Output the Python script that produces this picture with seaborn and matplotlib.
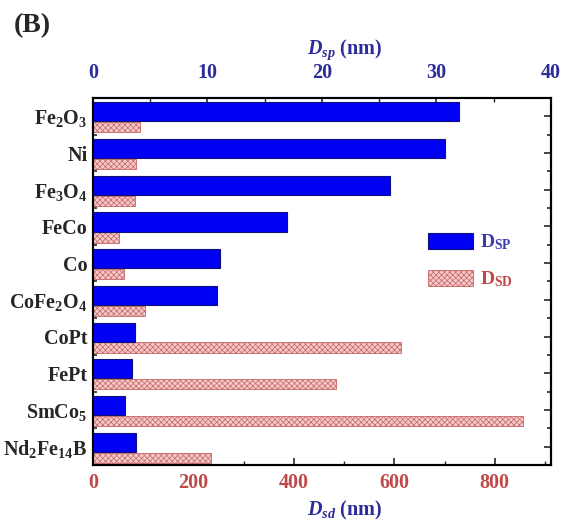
import numpy as np
import pandas as pd
import matplotlib
matplotlib.use("Agg")
import matplotlib.pyplot as plt
from matplotlib.patches import Patch
from matplotlib.ticker import MultipleLocator, FixedLocator
import seaborn as sns

materials = ["Fe$_2$O$_3$", "Ni", "Fe$_3$O$_4$", "FeCo", "Co", "CoFe$_2$O$_4$",
             "CoPt", "FePt", "SmCo$_5$", "Nd$_2$Fe$_{14}$B"]
d_sp = [32.0, 30.7, 25.9, 16.9, 11.1, 10.8, 3.7, 3.4, 2.8, 3.75]   # nm, top axis
d_sd = [94, 86, 84, 52, 62, 103, 613, 484, 856, 235]               # nm, bottom axis

BLUE = "#0000f5"
NAVY = "#2b2b9a"
PINK = "#f3c9c9"
RED = "#c04848"
HATCH_RED = "#c86464"

sns.set_style("ticks")
plt.rcParams["font.family"] = ["Liberation Serif", "DejaVu Serif"]
plt.rcParams["font.weight"] = "bold"
plt.rcParams["axes.labelweight"] = "bold"
plt.rcParams["mathtext.fontset"] = "custom"
plt.rcParams["mathtext.rm"] = "Liberation Serif:bold"
plt.rcParams["mathtext.it"] = "Liberation Serif:bold:italic"
plt.rcParams["mathtext.bf"] = "Liberation Serif:bold"
plt.rcParams["mathtext.default"] = "rm"
plt.rcParams["hatch.linewidth"] = 0.5

df = pd.DataFrame({
    "material": materials * 2,
    "value": d_sp + d_sd,
    "series": ["D_SP"] * len(materials) + ["D_SD"] * len(materials),
})

fig = plt.figure(figsize=(5.66, 5.26), dpi=100)
ax = fig.add_axes([0.1643, 0.116, 0.8092, 0.6977])
ax2 = ax.twiny()

# bottom axis: D_sd (pink, hatched)
sns.barplot(data=df[df.series == "D_SD"], x="value", y="material", hue="series",
            hue_order=["D_SP", "D_SD"], order=materials, dodge=True, width=0.8,
            palette={"D_SP": BLUE, "D_SD": PINK}, orient="h", legend=False, ax=ax)
# top axis: D_sp (blue)
sns.barplot(data=df[df.series == "D_SP"], x="value", y="material", hue="series",
            hue_order=["D_SP", "D_SD"], order=materials, dodge=True, width=0.8,
            palette={"D_SP": BLUE, "D_SD": PINK}, orient="h", legend=False, ax=ax2)

# reshape the dodged bars: thick blue on top, thin pink below
for p in ax.patches:
    c = p.get_y() + p.get_height() / 2 + 0.10
    p.set_height(0.28)
    p.set_y(c - 0.14)
    p.set_facecolor(PINK)
    p.set_edgecolor(HATCH_RED)
    p.set_hatch("xxxxxx")
    p.set_linewidth(0.6)
for p in ax2.patches:
    c = p.get_y() + p.get_height() / 2 + 0.08
    p.set_height(0.52)
    p.set_y(c - 0.26)
    p.set_facecolor(BLUE)
    p.set_edgecolor("#10107a")
    p.set_linewidth(0.8)

ax.set_xlim(0, 912)
ax2.set_xlim(0, 40)
ax.set_ylim(len(materials) - 0.5, -0.5)

ax.set_xlabel("$\\mathit{D}_{\\mathit{sd}}$ (nm)", fontsize=14.5, color=NAVY,
              fontweight="bold", x=0.55, labelpad=4)
ax2.set_xlabel("$\\mathit{D}_{\\mathit{sp}}$ (nm)", fontsize=14.5, color=NAVY,
               fontweight="bold", x=0.55, labelpad=6)
ax.set_ylabel("")
ax2.set_ylabel("")

ax.xaxis.set_major_locator(MultipleLocator(200))
ax.xaxis.set_minor_locator(MultipleLocator(100))
ax2.xaxis.set_major_locator(MultipleLocator(10))
ax2.xaxis.set_minor_locator(MultipleLocator(5))
ax.yaxis.set_minor_locator(FixedLocator(np.arange(-0.5, len(materials), 1.0)))

ax.tick_params(axis="x", which="major", direction="in", length=5, width=1.2,
               labelsize=14.5, labelcolor=RED, pad=6)
ax.tick_params(axis="x", which="minor", direction="in", length=3, width=1)
ax2.tick_params(axis="x", which="major", direction="in", length=5, width=1.2,
                labelsize=14.5, labelcolor=NAVY, pad=11)
ax2.tick_params(axis="x", which="minor", direction="in", length=3, width=1)
ax.tick_params(axis="y", which="both", direction="in", right=True, left=True,
               length=5, width=1.2, labelsize=14.5, pad=4)
ax.tick_params(axis="y", which="minor", length=3)
for lab in ax.get_yticklabels() + ax.get_xticklabels() + ax2.get_xticklabels():
    lab.set_fontweight("bold")

for a in (ax, ax2):
    for s in a.spines.values():
        s.set_linewidth(1.5)
        s.set_color("black")

handles = [
    Patch(facecolor=BLUE, edgecolor="#10107a", linewidth=0.8),
    Patch(facecolor=PINK, edgecolor=HATCH_RED, hatch="xxxxxx", linewidth=0.6),
]
leg = ax2.legend(handles, ["D$_{\\mathrm{SP}}$", "D$_{\\mathrm{SD}}$"],
                 loc="upper left", bbox_to_anchor=(0.711, 0.66), frameon=False,
                 fontsize=14, handlelength=2.3, handleheight=0.85,
                 handletextpad=0.35, labelspacing=0.9, borderpad=0)
leg.get_texts()[0].set_color("#3a3ab0")
leg.get_texts()[1].set_color(RED)

fig.text(0.025, 0.975, "(B)", fontsize=20, fontweight="bold", va="top", ha="left")

fig.savefig("out.png", dpi=100)
